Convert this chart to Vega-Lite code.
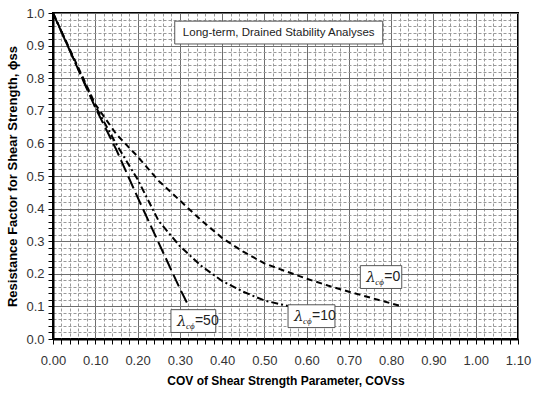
{
  "$schema": "https://vega.github.io/schema/vega-lite/v6.json",
  "width": 465,
  "height": 326,
  "autosize": "none",
  "padding": {"left": 53, "top": 13, "right": 19, "bottom": 57},
  "background": "white",
  "config": {
    "view": {"stroke": "black", "strokeWidth": 2},
    "font": "Liberation Sans",
    "axis": {
      "domainColor": "black",
      "domainWidth": 2,
      "tickColor": "black",
      "tickSize": 5,
      "labelFont": "Liberation Sans",
      "labelFontSize": 13,
      "labelColor": "#333333",
      "labelOverlap": false,
      "labelFlush": false,
      "titleFont": "Liberation Sans",
      "titleFontWeight": "bold",
      "titleColor": "black",
      "gridOpacity": 1
    }
  },
  "layer": [
    {
      "data": {
        "values": [
          {"series": "0", "cov": 0.0, "phi": 1.0},
          {"series": "0", "cov": 0.05, "phi": 0.86},
          {"series": "0", "cov": 0.1, "phi": 0.72},
          {"series": "0", "cov": 0.15, "phi": 0.628},
          {"series": "0", "cov": 0.2, "phi": 0.56},
          {"series": "0", "cov": 0.25, "phi": 0.485},
          {"series": "0", "cov": 0.3, "phi": 0.425},
          {"series": "0", "cov": 0.35, "phi": 0.365},
          {"series": "0", "cov": 0.4, "phi": 0.31},
          {"series": "0", "cov": 0.45, "phi": 0.268},
          {"series": "0", "cov": 0.5, "phi": 0.232},
          {"series": "0", "cov": 0.55, "phi": 0.208},
          {"series": "0", "cov": 0.6, "phi": 0.185},
          {"series": "0", "cov": 0.65, "phi": 0.164},
          {"series": "0", "cov": 0.7, "phi": 0.145},
          {"series": "0", "cov": 0.75, "phi": 0.127},
          {"series": "0", "cov": 0.82, "phi": 0.102},
          {"series": "10", "cov": 0.0, "phi": 1.0},
          {"series": "10", "cov": 0.05, "phi": 0.855},
          {"series": "10", "cov": 0.1, "phi": 0.715},
          {"series": "10", "cov": 0.15, "phi": 0.597},
          {"series": "10", "cov": 0.2, "phi": 0.49},
          {"series": "10", "cov": 0.25, "phi": 0.362},
          {"series": "10", "cov": 0.3, "phi": 0.285},
          {"series": "10", "cov": 0.35, "phi": 0.225},
          {"series": "10", "cov": 0.4, "phi": 0.178},
          {"series": "10", "cov": 0.45, "phi": 0.145},
          {"series": "10", "cov": 0.5, "phi": 0.118},
          {"series": "10", "cov": 0.56, "phi": 0.1},
          {"series": "50", "cov": 0.0, "phi": 1.0},
          {"series": "50", "cov": 0.05, "phi": 0.855},
          {"series": "50", "cov": 0.1, "phi": 0.71},
          {"series": "50", "cov": 0.15, "phi": 0.58},
          {"series": "50", "cov": 0.2, "phi": 0.435},
          {"series": "50", "cov": 0.25, "phi": 0.295},
          {"series": "50", "cov": 0.3, "phi": 0.155},
          {"series": "50", "cov": 0.322, "phi": 0.098}
        ]
      },
      "mark": {"type": "line", "color": "black", "strokeWidth": 2, "clip": true},
      "encoding": {
        "x": {
          "field": "cov",
          "type": "quantitative",
          "scale": {"domain": [0, 1.1], "nice": false, "zero": true},
          "axis": {
            "values": [0, 0.02, 0.04, 0.06, 0.08, 0.1, 0.12, 0.14, 0.16, 0.18, 0.2, 0.22, 0.24, 0.26, 0.28, 0.3, 0.32, 0.34, 0.36, 0.38, 0.4, 0.42, 0.44, 0.46, 0.48, 0.5, 0.52, 0.54, 0.56, 0.58, 0.6, 0.62, 0.64, 0.66, 0.68, 0.7, 0.72, 0.74, 0.76, 0.78, 0.8, 0.82, 0.84, 0.86, 0.88, 0.9, 0.92, 0.94, 0.96, 0.98, 1.0, 1.02, 1.04, 1.06, 1.08, 1.1],
            "tickCount": 500,
            "labelExpr": "abs(datum.value*10 - round(datum.value*10)) < 0.001 ? format(datum.value, '.2f') : ''",
            "labelPadding": 10,
            "grid": true,
            "gridColor": {"condition": {"test": "abs(datum.value*10 - round(datum.value*10)) < 0.001", "value": "#6e6e6e"}, "value": "#999999"},
            "gridDash": {"condition": {"test": "abs(datum.value*10 - round(datum.value*10)) < 0.001", "value": []}, "value": [3, 2]},
            "title": "COV of Shear Strength Parameter, COVss",
            "titleFontSize": 12,
            "titlePadding": 8
          }
        },
        "y": {
          "field": "phi",
          "type": "quantitative",
          "scale": {"domain": [0, 1], "nice": false},
          "axis": {
            "values": [0, 0.02, 0.04, 0.06, 0.08, 0.1, 0.12, 0.14, 0.16, 0.18, 0.2, 0.22, 0.24, 0.26, 0.28, 0.3, 0.32, 0.34, 0.36, 0.38, 0.4, 0.42, 0.44, 0.46, 0.48, 0.5, 0.52, 0.54, 0.56, 0.58, 0.6, 0.62, 0.64, 0.66, 0.68, 0.7, 0.72, 0.74, 0.76, 0.78, 0.8, 0.82, 0.84, 0.86, 0.88, 0.9, 0.92, 0.94, 0.96, 0.98, 1.0],
            "tickCount": 500,
            "labelExpr": "abs(datum.value*10 - round(datum.value*10)) < 0.001 ? format(datum.value, '.1f') : ''",
            "labelPadding": 4,
            "grid": true,
            "gridColor": {"condition": {"test": "abs(datum.value*10 - round(datum.value*10)) < 0.001", "value": "#6e6e6e"}, "value": "#999999"},
            "gridDash": {"condition": {"test": "abs(datum.value*10 - round(datum.value*10)) < 0.001", "value": []}, "value": [3, 2]},
            "title": "Resistance Factor for Shear Strength, ϕss",
            "titleFontSize": 13,
            "titlePadding": 6
          }
        },
        "detail": {"field": "series", "type": "nominal"},
        "strokeDash": {
          "field": "series",
          "type": "nominal",
          "scale": {"domain": ["0", "10", "50"], "range": [[6, 4], [7, 3, 2, 3], [13, 5]]},
          "legend": null
        }
      }
    },
    {
      "data": {
        "values": [
          {"label": "=0", "x1": 0.727, "x2": 0.825, "y1": 0.155, "y2": 0.225},
          {"label": "=10", "x1": 0.556, "x2": 0.667, "y1": 0.035, "y2": 0.105},
          {"label": "=50", "x1": 0.279, "x2": 0.385, "y1": 0.02, "y2": 0.09}
        ]
      },
      "layer": [
        {
          "mark": {"type": "rect", "fill": "white", "stroke": "#555555", "strokeWidth": 1},
          "encoding": {
            "x": {"field": "x1", "type": "quantitative"},
            "x2": {"field": "x2"},
            "y": {"field": "y1", "type": "quantitative"},
            "y2": {"field": "y2"}
          }
        },
        {
          "transform": [{"calculate": "(datum.y1 + datum.y2) / 2", "as": "ym"}],
          "mark": {"type": "text", "text": "λ", "align": "left", "baseline": "middle", "dx": 6, "fontSize": 15, "fontStyle": "italic", "font": "DejaVu Serif", "color": "#222222"},
          "encoding": {
            "x": {"field": "x1", "type": "quantitative"},
            "y": {"field": "ym", "type": "quantitative"}
          }
        },
        {
          "transform": [{"calculate": "(datum.y1 + datum.y2) / 2", "as": "ym"}],
          "mark": {"type": "text", "text": "cϕ", "align": "left", "baseline": "middle", "dx": 15, "dy": 5, "fontSize": 9, "fontStyle": "italic", "font": "Liberation Serif", "color": "#222222"},
          "encoding": {
            "x": {"field": "x1", "type": "quantitative"},
            "y": {"field": "ym", "type": "quantitative"}
          }
        },
        {
          "transform": [{"calculate": "(datum.y1 + datum.y2) / 2", "as": "ym"}],
          "mark": {"type": "text", "align": "left", "baseline": "middle", "dx": 24, "fontSize": 14, "font": "Liberation Sans", "color": "#222222"},
          "encoding": {
            "x": {"field": "x1", "type": "quantitative"},
            "y": {"field": "ym", "type": "quantitative"},
            "text": {"field": "label"}
          }
        }
      ]
    },
    {
      "data": {
        "values": [
          {"text": "Long-term, Drained Stability Analyses", "x1": 0.288, "x2": 0.78, "y1": 0.905, "y2": 0.975}
        ]
      },
      "layer": [
        {
          "mark": {"type": "rect", "fill": "white", "stroke": "#555555", "strokeWidth": 1},
          "encoding": {
            "x": {"field": "x1", "type": "quantitative"},
            "x2": {"field": "x2"},
            "y": {"field": "y1", "type": "quantitative"},
            "y2": {"field": "y2"}
          }
        },
        {
          "transform": [
            {"calculate": "(datum.y1 + datum.y2) / 2", "as": "ym"},
            {"calculate": "(datum.x1 + datum.x2) / 2", "as": "xm"}
          ],
          "mark": {"type": "text", "align": "center", "baseline": "middle", "fontSize": 11.5, "font": "Liberation Sans", "color": "#222222"},
          "encoding": {
            "x": {"field": "xm", "type": "quantitative"},
            "y": {"field": "ym", "type": "quantitative"},
            "text": {"field": "text"}
          }
        }
      ]
    }
  ]
}
